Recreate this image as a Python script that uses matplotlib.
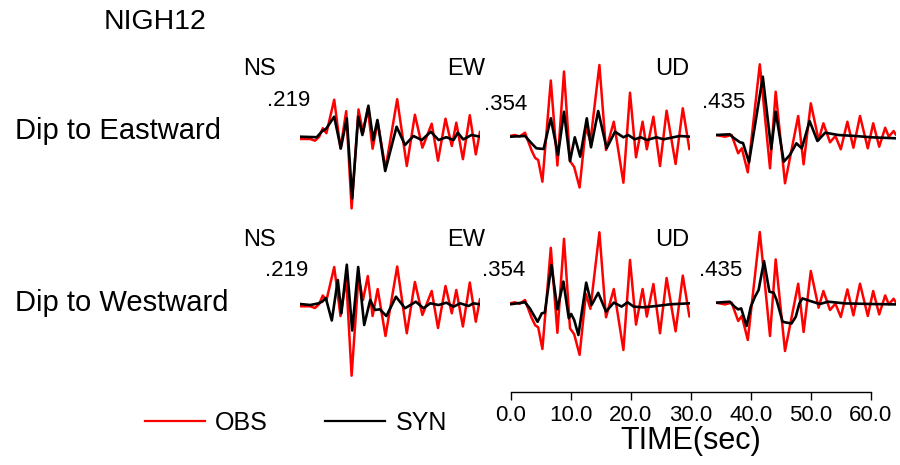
import matplotlib.pyplot as plt
from matplotlib.lines import Line2D

plt.rcParams['font.family'] = ['Liberation Sans', 'DejaVu Sans']

station = 'NIGH12'
components = ['NS', 'EW', 'UD']
max_amp = ['.219', '.354', '.435']
models = ['Dip to Eastward', 'Dip to Westward']
time_ticks = [0, 10, 20, 30, 40, 50, 60]

# observed records: time (s) and relative amplitude, shared by both models
obs_ns_t = [0.0, 1.7, 2.5, 3.2, 3.8, 4.4, 5.7, 6.75, 7.7, 8.6, 9.75, 10.5, 11.3, 12.1,
            12.95, 14.25, 16.2, 17.8, 19.15, 20.4, 21.95, 23.0, 24.25, 25.3, 26.05,
            27.15, 28.3, 29.3, 30.0]
obs_ns_a = [-1.3, -1.3, -3.0, 1.0, 9.5, 4.5, 38.0, -11.0, 26.5, -70.7, 28.3, 5.0, 29.0,
            -11.0, 16.0, -31.0, 38.5, -28.3, 23.0, -10.0, 14.0, -23.0, 19.0, -8.3, 15.0,
            -21.5, 22.5, -16.7, 6.0]

obs_ew_t = [0.0, 0.8, 1.6, 2.5, 3.6, 4.2, 4.7, 5.4, 6.8, 7.9, 9.0, 10.0, 10.7, 11.6,
            12.65, 13.4, 14.9, 16.0, 17.3, 18.9, 20.0, 21.0, 22.1, 22.8, 23.9, 25.0,
            26.1, 27.6, 28.8, 29.9]
obs_ew_a = [0.0, 1.0, -0.5, 3.3, -14.5, -22.0, -24.0, -45.7, 55.5, -29.5, 64.5, -25.0,
            -31.0, -51.5, 9.3, -5.5, 71.0, -14.0, 14.3, -46.7, 43.3, -21.3, 14.3, -13.3,
            19.3, -30.0, 25.3, -28.0, 27.7, -13.3]

obs_ud_t = [0.0, 1.5, 2.6, 3.7, 4.3, 5.3, 7.3, 9.0, 9.95, 11.5, 13.7, 14.6, 15.8, 17.1,
            17.9, 19.0, 19.9, 20.8, 21.9, 22.9, 24.0, 25.3, 26.2, 27.2, 28.2, 28.8,
            29.6, 30.0]
obs_ud_a = [0.0, -1.7, 0.0, -18.3, -13.3, -37.3, 70.7, -33.3, 43.3, -48.3, 19.0, -29.3,
            31.7, -5.0, 11.7, -7.3, -1.0, -14.3, 13.3, -12.7, 19.0, -13.3, 11.7, -11.7,
            7.3, -1.7, 4.0, 0.0]

# synthetics, eastward dipping fault
syn_e_ns_t = [0.0, 2.8, 3.6, 4.4, 5.7, 6.8, 7.8, 8.7, 9.7, 10.4, 11.4, 12.2, 12.9, 14.2,
              16.1, 17.5, 18.9, 20.3, 21.8, 23.1, 24.4, 25.6, 26.3, 27.2, 28.6, 30.0]
syn_e_ns_a = [1.0, 0.5, 6.0, 9.3, 21.0, -10.7, 19.3, -60.7, 21.0, 2.7, 32.0, -2.3, 17.7,
              -33.3, 11.0, -7.3, 1.7, -2.3, 6.0, -2.3, 0.5, -2.3, 5.0, -1.7, 2.7, 1.0]

syn_e_ew_t = [0.0, 2.5, 3.7, 4.4, 5.6, 6.8, 8.0, 9.0, 10.0, 10.8, 11.7, 12.8, 13.5, 14.7,
              16.1, 17.5, 18.9, 19.7, 20.8, 21.8, 22.8, 24.4, 25.6, 27.2, 28.3, 30.0]
syn_e_ew_a = [-0.7, 0.0, -8.0, -12.3, -13.0, 17.7, -19.0, 24.3, -25.0, -1.3, -20.7, 17.7,
              -11.3, 25.0, -12.3, 4.3, -1.3, 1.0, -3.3, -1.3, -4.0, -1.3, -3.3, -1.3, 0.0,
              -0.7]

syn_e_ud_t = [0.0, 2.3, 2.9, 4.0, 4.5, 5.5, 7.8, 9.2, 9.95, 11.3, 12.3, 13.4, 14.3, 15.6,
              16.9, 18.2, 20.4, 23.2, 25.9, 30.0]
syn_e_ud_a = [0.0, 0.7, -2.7, -7.3, -8.0, -27.3, 58.3, -14.0, 23.3, -26.7, -20.0, -8.3,
              -13.3, 14.0, -6.0, 2.3, 0.0, -1.0, -2.3, -3.3]

# synthetics, westward dipping fault
syn_w_ns_t = [0.0, 1.7, 3.0, 3.7, 4.3, 5.3, 6.3, 6.9, 7.8, 8.7, 9.7, 10.7, 11.7, 12.5,
              13.3, 14.4, 16.0, 17.5, 19.3, 20.6, 21.7, 23.1, 24.4, 25.6, 26.7, 28.1,
              28.9, 30.0]
syn_w_ns_a = [1.0, 0.0, 1.5, 3.3, 7.0, -15.5, 25.0, -8.3, 40.3, -25.5, 38.0, -20.0, 5.0,
              -5.0, -4.3, -11.0, 8.3, -3.3, 3.3, -3.3, 1.7, 0.0, 2.3, -1.7, 1.7, -1.0,
              1.7, 0.7]

syn_w_ew_t = [0.0, 2.5, 3.3, 4.6, 5.3, 5.8, 6.9, 7.9, 8.9, 9.8, 10.2, 10.7, 11.4, 12.7,
              13.6, 14.7, 16.0, 17.3, 18.6, 19.6, 20.6, 22.2, 24.4, 26.7, 30.0]
syn_w_ew_a = [-1.0, 1.0, -5.0, -18.5, -10.0, -9.3, 38.3, -6.0, 21.7, -15.0, -10.7, -16.7,
              -31.7, 20.7, -1.7, 10.5, -8.3, 0.7, -3.3, 1.0, -3.3, -4.0, -2.7, -1.0, 0.0]

syn_w_ud_t = [0.0, 2.3, 3.1, 3.7, 4.2, 5.1, 5.8, 6.5, 7.1, 8.0, 8.9, 9.6, 10.1, 11.1,
              11.8, 12.6, 13.3, 13.9, 14.4, 15.7, 17.3, 18.7, 21.5, 25.9, 30.0]
syn_w_ud_a = [0.0, 1.0, -4.0, -6.7, -5.7, -23.3, -4.0, 6.0, 12.7, 41.7, 11.0, 10.0, 2.7,
              -19.0, -20.0, -20.7, -14.0, -0.7, 4.3, 1.7, -1.3, 1.0, -0.7, -1.3, -1.7]

obs = [(obs_ns_t, obs_ns_a), (obs_ew_t, obs_ew_a), (obs_ud_t, obs_ud_a)]
syn = [[(syn_e_ns_t, syn_e_ns_a), (syn_e_ew_t, syn_e_ew_a), (syn_e_ud_t, syn_e_ud_a)],
       [(syn_w_ns_t, syn_w_ns_a), (syn_w_ew_t, syn_w_ew_a), (syn_w_ud_t, syn_w_ud_a)]]

# layout in pixels
W, H = 900, 465
trace_left = [300, 510, 716]
row_base = [[137.7, 136, 135], [305, 303.3, 302.7]]
comp_label_x = [243, 447, 655]
comp_label_y = [69, 240]
amp_label_x = [[310, 527, 745], [308, 525, 742]]
amp_label_y = [[101, 104, 102], [270, 270, 270]]
model_label_y = [131, 303]


def fx(x):
    return x / W


def fy(y):
    return 1 - y / H


fig = plt.figure(figsize=(9, 4.65), dpi=100)

for r in range(2):
    for c in range(3):
        base = row_base[r][c]
        ax = fig.add_axes([fx(trace_left[c]), fy(base + 80), 180 / W, 160 / H])
        ax.plot(obs[c][0], obs[c][1], color='red', lw=1.8,
                solid_joinstyle='round', solid_capstyle='round')
        ax.plot(syn[r][c][0], syn[r][c][1], color='black', lw=1.9,
                solid_joinstyle='round', solid_capstyle='round')
        ax.set_xlim(0, 30)
        ax.set_ylim(-80, 80)
        ax.axis('off')
        fig.text(fx(comp_label_x[c]), fy(comp_label_y[r]), components[c],
                 fontsize=17, ha='left', va='center')
        fig.text(fx(amp_label_x[r][c]), fy(amp_label_y[r][c]), max_amp[c],
                 fontsize=16, ha='right', va='center')
    fig.text(fx(15), fy(model_label_y[r]), models[r], fontsize=21, ha='left', va='center')

fig.text(fx(155), fy(22), station, fontsize=20.5, ha='center', va='center')

# time scale bar
tax = fig.add_axes([fx(510.7), fy(392), 360 / W, 0.001])
tax.set_xlim(0, 60)
tax.set_xticks(time_ticks)
tax.set_xticklabels(['%.1f' % t for t in time_ticks], fontsize=16)
tax.set_yticks([])
for s in ['left', 'right', 'top']:
    tax.spines[s].set_visible(False)
tax.spines['bottom'].set_linewidth(1.0)
tax.tick_params(axis='x', direction='out', length=6, width=1.0, pad=3)
tax.patch.set_visible(False)
tax.set_xlabel('TIME(sec)', fontsize=22, labelpad=0)

handles = [Line2D([], [], color='red', lw=1.6), Line2D([], [], color='black', lw=1.6)]
fig.legend(handles, ['OBS', 'SYN'], loc='center left', bbox_to_anchor=(fx(145), fy(423)),
           frameon=False, ncol=2, fontsize=18, handlelength=2.4, handletextpad=0.4,
           columnspacing=2.3, borderpad=0, borderaxespad=0)

fig.savefig('out.png', dpi=100)
